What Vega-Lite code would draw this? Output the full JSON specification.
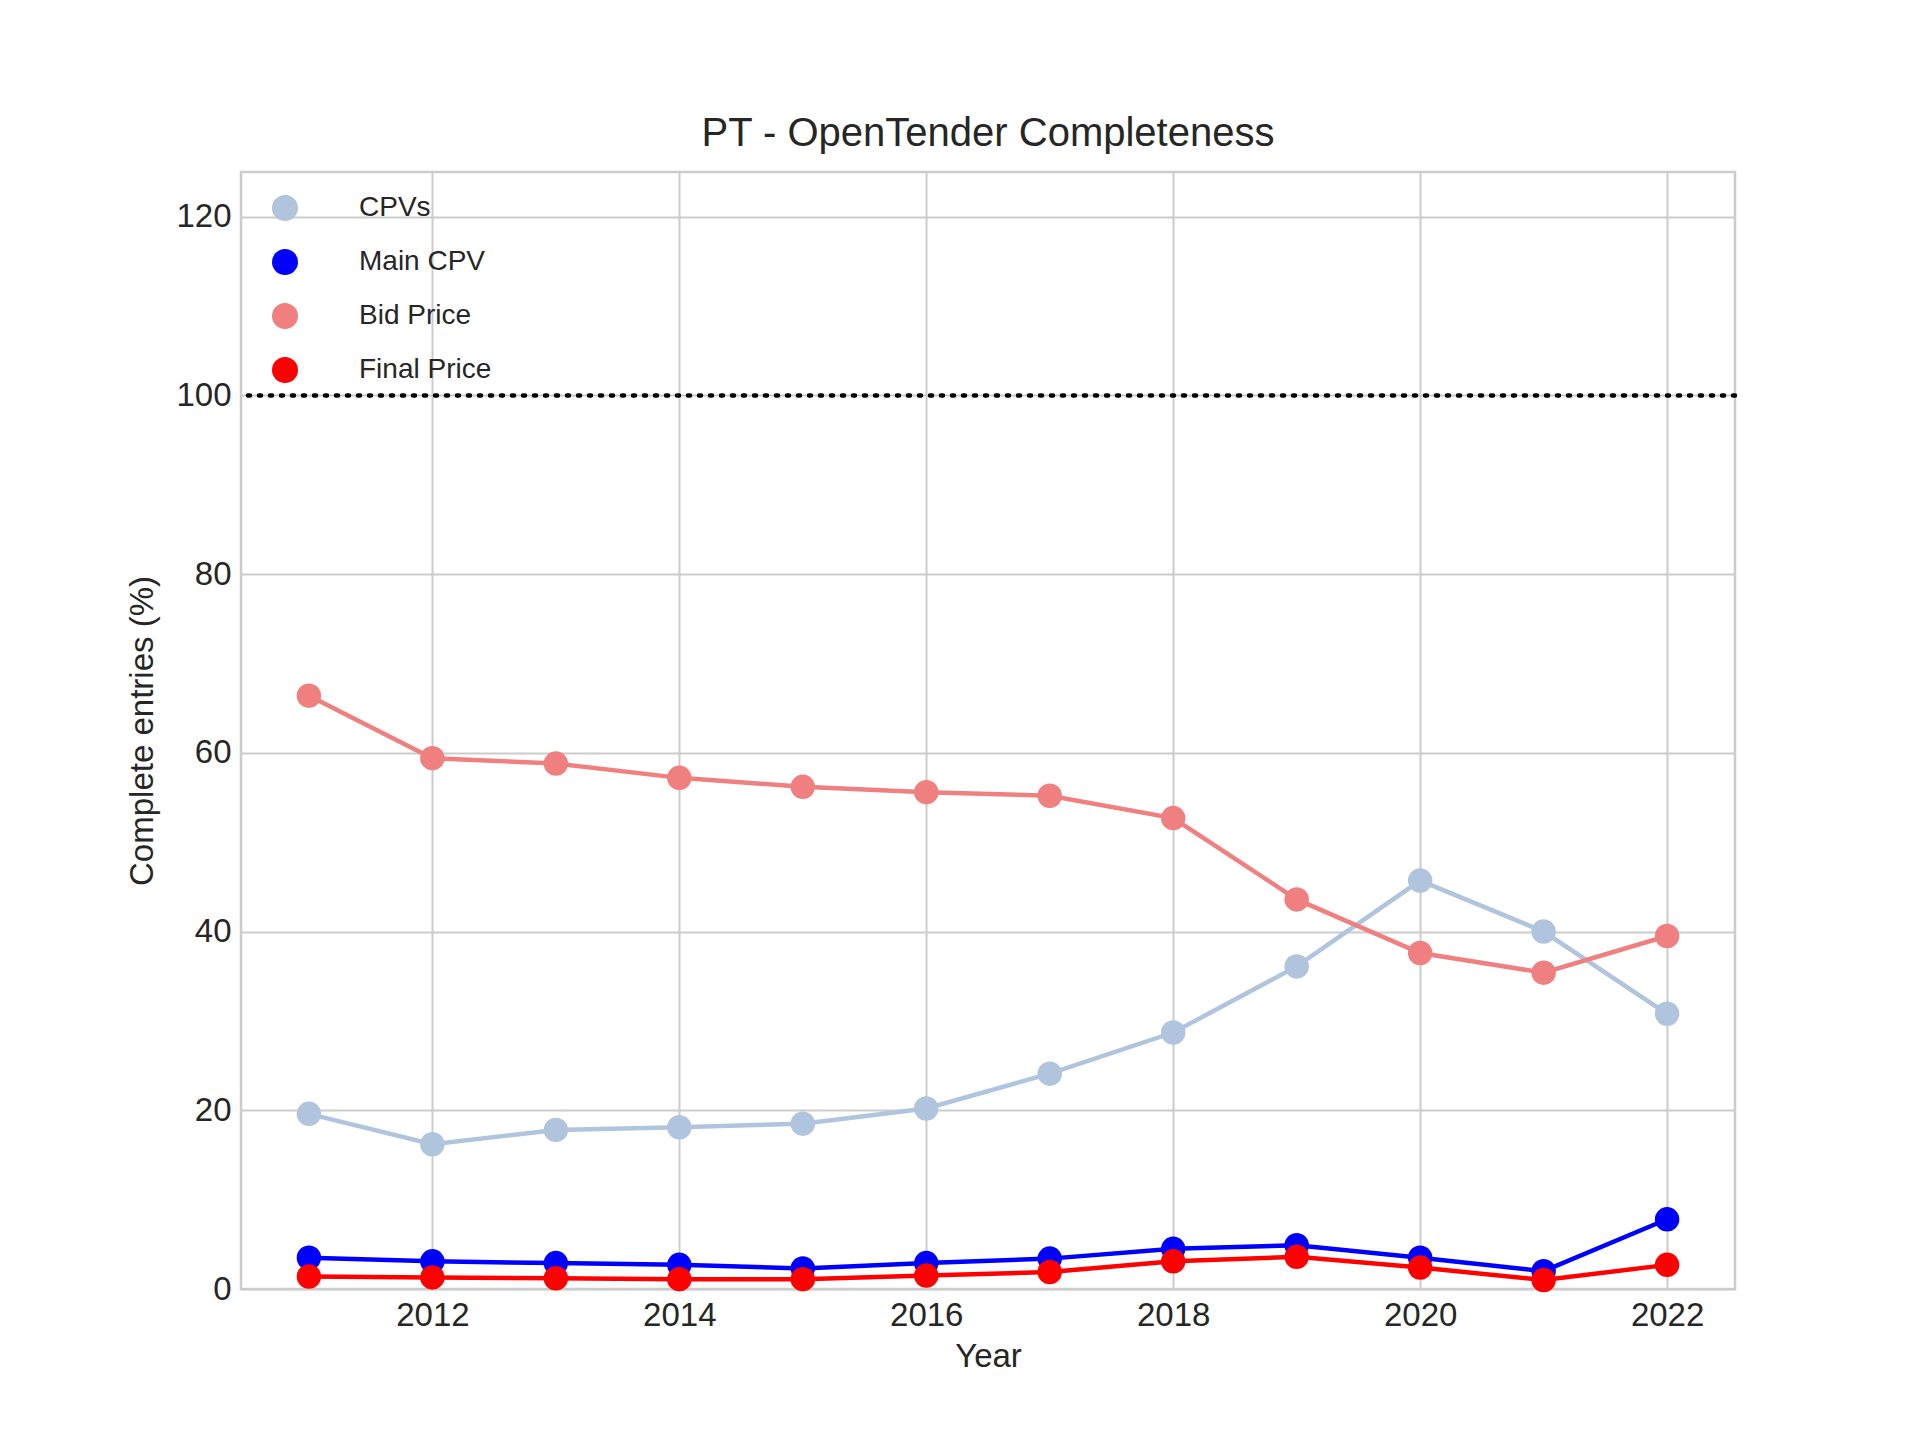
{
"$schema":"https://vega.github.io/schema/vega-lite/v6.json",
"width":1494,"height":1117,
"autosize":{"type":"none"},
"padding":{"left":241,"top":172,"right":185,"bottom":151},
"background":"white",
"config":{"font":"Liberation Sans","view":{"stroke":"#cccccc","strokeWidth":2.5},
"axis":{"gridColor":"#cccccc","gridWidth":2,"domain":false,"ticks":false,"labelFontSize":33,"titleFontSize":33,"labelColor":"#262626","titleColor":"#262626","titleFontWeight":"normal","labelPadding":10}},
"title":{"text":"PT - OpenTender Completeness","fontSize":40,"fontWeight":"normal","color":"#262626","offset":18},
"datasets":{"d":[
{"Year":2011,"s":"CPVs","v":19.6},{"Year":2012,"s":"CPVs","v":16.2},{"Year":2013,"s":"CPVs","v":17.8},{"Year":2014,"s":"CPVs","v":18.1},{"Year":2015,"s":"CPVs","v":18.5},{"Year":2016,"s":"CPVs","v":20.2},{"Year":2017,"s":"CPVs","v":24.1},{"Year":2018,"s":"CPVs","v":28.7},{"Year":2019,"s":"CPVs","v":36.1},{"Year":2020,"s":"CPVs","v":45.7},{"Year":2021,"s":"CPVs","v":40.0},{"Year":2022,"s":"CPVs","v":30.8},
{"Year":2011,"s":"Main CPV","v":3.5},{"Year":2012,"s":"Main CPV","v":3.1},{"Year":2013,"s":"Main CPV","v":2.9},{"Year":2014,"s":"Main CPV","v":2.7},{"Year":2015,"s":"Main CPV","v":2.3},{"Year":2016,"s":"Main CPV","v":2.9},{"Year":2017,"s":"Main CPV","v":3.4},{"Year":2018,"s":"Main CPV","v":4.5},{"Year":2019,"s":"Main CPV","v":4.9},{"Year":2020,"s":"Main CPV","v":3.5},{"Year":2021,"s":"Main CPV","v":2.0},{"Year":2022,"s":"Main CPV","v":7.8},
{"Year":2011,"s":"Bid Price","v":66.4},{"Year":2012,"s":"Bid Price","v":59.4},{"Year":2013,"s":"Bid Price","v":58.8},{"Year":2014,"s":"Bid Price","v":57.2},{"Year":2015,"s":"Bid Price","v":56.2},{"Year":2016,"s":"Bid Price","v":55.6},{"Year":2017,"s":"Bid Price","v":55.2},{"Year":2018,"s":"Bid Price","v":52.7},{"Year":2019,"s":"Bid Price","v":43.6},{"Year":2020,"s":"Bid Price","v":37.6},{"Year":2021,"s":"Bid Price","v":35.4},{"Year":2022,"s":"Bid Price","v":39.5},
{"Year":2011,"s":"Final Price","v":1.4},{"Year":2012,"s":"Final Price","v":1.3},{"Year":2013,"s":"Final Price","v":1.2},{"Year":2014,"s":"Final Price","v":1.1},{"Year":2015,"s":"Final Price","v":1.1},{"Year":2016,"s":"Final Price","v":1.5},{"Year":2017,"s":"Final Price","v":1.9},{"Year":2018,"s":"Final Price","v":3.1},{"Year":2019,"s":"Final Price","v":3.6},{"Year":2020,"s":"Final Price","v":2.4},{"Year":2021,"s":"Final Price","v":1.0},{"Year":2022,"s":"Final Price","v":2.7}
],"r":[{"y":100}]},
"layer":[
{"data":{"name":"r"},"mark":{"type":"rule","strokeDash":[2,9],"strokeWidth":4.5,"color":"black","strokeCap":"round"},"encoding":{"y":{"field":"y","type":"quantitative","scale":{"domain":[0,125]}}}},
{"data":{"name":"d"},"mark":{"type":"line","strokeWidth":4.5,"point":{"size":600,"filled":true,"opacity":1}},
"encoding":{
"x":{"field":"Year","type":"quantitative","scale":{"domain":[2010.45,2022.55],"nice":false,"zero":false},"axis":{"values":[2012,2014,2016,2018,2020,2022],"format":"d","title":"Year","titlePadding":8}},
"y":{"field":"v","type":"quantitative","scale":{"domain":[0,125],"nice":false},"axis":{"values":[0,20,40,60,80,100,120],"title":"Complete entries (%)","titlePadding":16}},
"color":{"field":"s","type":"nominal","scale":{"domain":["CPVs","Main CPV","Bid Price","Final Price"],"range":["#b0c4de","#0000ff","#f08080","#ff0000"]},
"legend":{"title":null,"orient":"none","legendX":30,"legendY":22,"labelFontSize":28,"labelColor":"#262626","symbolType":"circle","symbolSize":600,"rowPadding":22,"labelOffset":60}}}}
]}
